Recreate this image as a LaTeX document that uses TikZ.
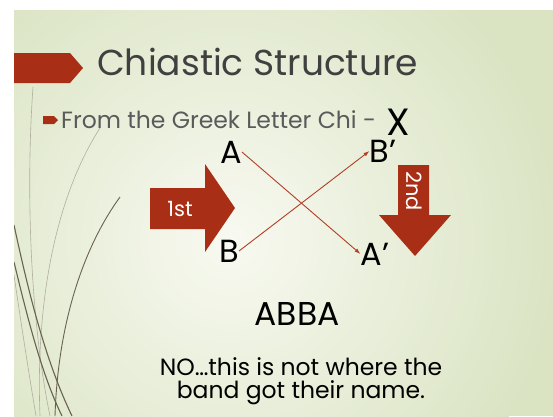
\documentclass[tikz,border=0pt]{standalone}
\usepackage{fontspec}
\setmainfont{Poppins}
\usetikzlibrary{arrows.meta}
\definecolor{slidered}{RGB}{168,46,22}
\definecolor{linered}{RGB}{178,62,38}
\definecolor{bgin}{RGB}{248,249,241}
\definecolor{bgout}{RGB}{218,228,195}
\definecolor{titlegray}{RGB}{64,64,64}
\definecolor{subgray}{RGB}{90,90,90}
\definecolor{wispdark}{RGB}{105,98,78}
\definecolor{wisplight}{RGB}{175,175,160}
\newcommand{\fs}[1]{\fontsize{#1}{#1}\selectfont}
\tikzset{
  letter/.style={inner sep=0pt, text=black, font=\fs{32}},
  cross/.style={draw=linered, line width=0.9pt, -{Latex[length=6pt,width=4pt]}},
  redshape/.style={fill=slidered, draw=none},
  wispd/.style={draw=wispdark, line width=1.1pt},
  wispl/.style={draw=wisplight, line width=0.6pt},
}
\begin{document}
\begin{tikzpicture}[x=1pt,y=-1pt]
\useasboundingbox (0,0) rectangle (553,416);
\fill[white] (0,0) rectangle (553,416);
% slide background
\begin{scope}
\clip (14,10) rectangle (553,416);
\fill[bgout] (14,10) rectangle (553,416);
\shade[inner color=bgin, outer color=bgout] (230,240) circle (330pt);
% wisps
\draw[wispl] (33,87) .. controls (25,200) and (32,330) .. (50,416);
\draw[wispl] (100,128) .. controls (60,190) and (35,290) .. (40,416);
\draw[wispl] (14,275) .. controls (22,330) and (30,380) .. (36,416);
\draw[wispd] (14,225) .. controls (28,290) and (45,360) .. (72,416);
\draw[wispd] (14,262) .. controls (28,320) and (42,375) .. (62,416);
\draw[wispd, line width=0.9pt] (120,197) .. controls (85,245) and (58,320) .. (55,416);
\end{scope}
% title banner
\fill[redshape] (14,53) -- (70,53) -- (83,68) -- (70,83) -- (14,83) -- cycle;
\node[anchor=base west, inner sep=0pt, text=titlegray, font=\fs{36}] (title) at (97,75) {Chiastic Structure};
% bullet
\fill[redshape] (43,116) -- (54,116) -- (58,120) -- (54,124) -- (43,124) -- cycle;
\node[anchor=base west, inner sep=0pt, text=subgray, font=\fs{23.5}] (sub) at (61,128) {From the Greek Letter Chi -};
\node[anchor=base west, inner sep=0pt, text=black, font=\fs{38}] (chi) at (386,135) {X};
% letters
\node[letter] (A) at (231,152) {A};
\node[letter] (B) at (229,251) {B};
\node[letter] (Bp) at (383,151) {B'};
\node[letter] (Ap) at (375,254) {A'};
\draw[cross] (A.east) -- (Ap.west);
\draw[cross] (B.east) -- (Bp.west);
% 1st arrow
\fill[redshape] (150,188) -- (205,188) -- (205,164) -- (235,208) -- (205,252) -- (205,229) -- (150,229) -- cycle;
\node[text=white, font=\fs{21}, inner sep=0pt] (first) at (180,209) {1st};
% 2nd arrow
\fill[redshape] (398,165) -- (429,165) -- (429,215) -- (451,215) -- (415,256) -- (379,215) -- (398,215) -- cycle;
\node[text=white, font=\fs{21}, inner sep=0pt, rotate=-90] (second) at (414,191) {2nd};
% ABBA
\node[inner sep=0pt, text=black, font=\fs{33}] (abba) at (297,314) {ABBA};
\node[inner sep=0pt, text=black, font=\fs{23.5}, align=center] (note) at (301,381) {NO…this is not where the\\band got their name.};
\end{tikzpicture}
\end{document}
